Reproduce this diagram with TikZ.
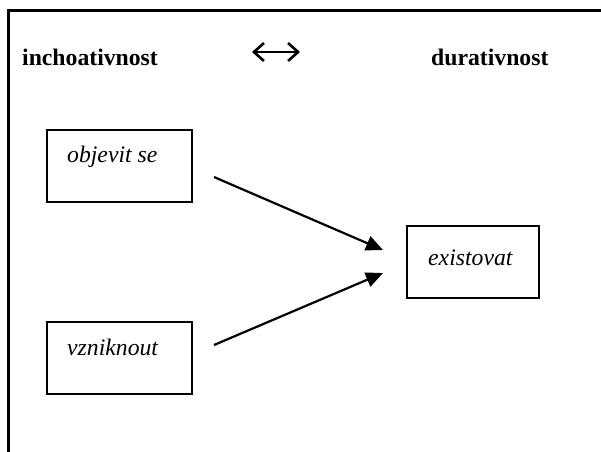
\documentclass[tikz,border=0pt]{standalone}
\usepackage{fontspec}
\setmainfont{Liberation Serif}
\usetikzlibrary{arrows.meta,calc}
\begin{document}
\begin{tikzpicture}[x=1pt,y=-1pt,
  box/.style={draw, line width=2.2pt, minimum width=145pt, minimum height=72pt, inner sep=0pt, anchor=north west},
  lbl/.style={font=\fontsize{23.7}{28}\selectfont\itshape, anchor=base west, inner sep=0pt},
  hdr/.style={font=\fontsize{23.7}{28}\selectfont\bfseries, anchor=base west, inner sep=0pt},
  dblarr/.style={line width=2.6pt, {Straight Barb[length=10pt,width=18pt]}-{Straight Barb[length=10pt,width=18pt]}},
  arr/.style={line width=2.2pt, -{Triangle[length=17pt,width=15pt]}}]
\useasboundingbox (0,0) rectangle (601,451);
% frame
\draw[line width=3pt] (8.5,455) -- (8.5,10.5) -- (605,10.5);
% headers
\node[hdr] (inch) at (22,65) {inchoativnost};
\node[hdr] (dur) at (431,65) {durativnost};
\coordinate (dl) at (252,52);
\coordinate (dr) at (300,52);
\draw[dblarr] (dl) -- (dr);
% boxes
\node[box] (obj) at (46,129) {};
\node[box] (vz) at (46,321) {};
\node[box, minimum width=132pt] (ex) at (406,225) {};
\node[lbl] (objt) at ($(obj.north west)+(21,33)$) {objevit se};
\node[lbl] (vzt) at ($(vz.north west)+(21,34)$) {vzniknout};
\node[lbl] (ext) at ($(ex.north west)+(22,40)$) {existovat};
% arrows
\coordinate (a1s) at (214,177);
\coordinate (a1e) at (383,250);
\coordinate (a2s) at (214,345);
\coordinate (a2e) at (383,273);
\draw[arr] (a1s) -- (a1e);
\draw[arr] (a2s) -- (a2e);
\end{tikzpicture}
\end{document}
